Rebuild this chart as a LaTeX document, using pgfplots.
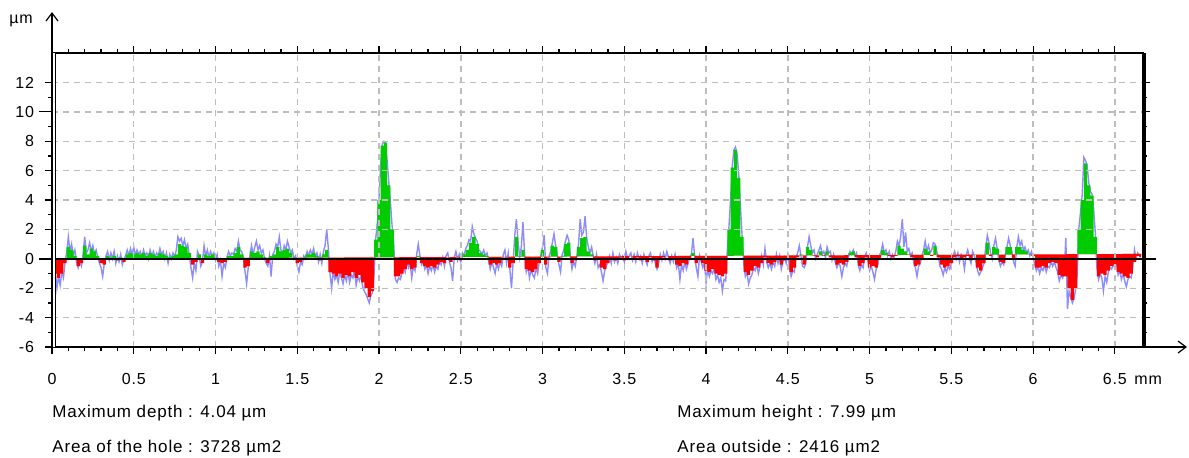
\documentclass[border=0pt]{standalone}
\usepackage{fontspec}
\setmainfont{Liberation Sans}
\newfontfamily\spaced[LetterSpace=5]{Liberation Sans}
\usepackage{pgfplots}
\usepackage{pgfplotstable}
\pgfplotsset{compat=1.18}
\usetikzlibrary{arrows.meta}
\definecolor{pgreen}{RGB}{0,204,0}
\definecolor{pred}{RGB}{255,0,0}
\definecolor{pblue}{RGB}{140,140,255}
\definecolor{pgrid}{RGB}{190,190,190}
\pgfplotstableread{
x s
0.00 0.2
0.02 -1.0
0.04 -1.3
0.06 -1.0
0.08 -0.3
0.10 0.8
0.12 0.6
0.14 0.2
0.16 -0.5
0.18 -0.3
0.20 0.9
0.22 0.3
0.24 0.7
0.26 0.5
0.28 0.2
0.30 -0.3
0.32 -0.4
0.34 0.2
0.36 0.1
0.38 0.2
0.40 -0.1
0.42 0.1
0.44 -0.2
0.46 0.3
0.48 0.4
0.50 0.3
0.52 0.4
0.54 0.3
0.56 0.4
0.58 0.2
0.60 0.4
0.62 0.3
0.64 0.2
0.66 0.4
0.68 0.3
0.70 0.2
0.72 0.1
0.74 0.2
0.76 0.3
0.78 1.0
0.80 0.9
0.82 0.8
0.84 0.4
0.86 -0.4
0.88 -0.2
0.90 0.3
0.92 -0.3
0.94 0.3
0.96 0.2
0.98 0.3
1.00 0.1
1.02 -0.2
1.04 -0.3
1.06 -0.2
1.08 0.2
1.10 0.2
1.12 0.4
1.14 0.8
1.16 0.3
1.18 -0.6
1.20 -0.5
1.22 0.5
1.24 0.4
1.26 0.5
1.28 0.3
1.30 0.1
1.32 -0.3
1.34 0.2
1.36 0.3
1.38 0.8
1.40 0.5
1.42 0.6
1.44 0.7
1.46 0.4
1.48 0.1
1.50 -0.3
1.52 -0.2
1.54 0.1
1.56 0.3
1.58 0.3
1.60 0.4
1.62 0.2
1.64 -0.1
1.66 0.3
1.68 0.6
1.70 -0.9
1.72 -1.0
1.74 -1.2
1.76 -1.0
1.78 -1.3
1.80 -1.1
1.82 -1.2
1.84 -0.9
1.86 -1.3
1.88 -1.1
1.90 -1.6
1.92 -2.0
1.94 -2.6
1.96 -2.2
1.98 1.3
2.00 4.0
2.02 7.7
2.04 7.9
2.06 5.0
2.08 2.0
2.10 -1.2
2.12 -1.2
2.14 -1.0
2.16 -0.7
2.18 -0.4
2.20 -0.7
2.22 -0.6
2.24 0.2
2.26 -0.3
2.28 -0.5
2.30 -0.6
2.32 -0.5
2.34 -0.6
2.36 -0.4
2.38 -0.2
2.40 -0.3
2.42 0.1
2.44 -0.2
2.46 0.0
2.48 0.1
2.50 -0.1
2.52 0.3
2.54 0.6
2.56 1.1
2.58 1.5
2.60 1.0
2.62 0.4
2.64 0.3
2.66 0.2
2.68 -0.4
2.70 -0.3
2.72 -0.4
2.74 -0.3
2.76 0.1
2.78 0.1
2.80 -0.6
2.82 -0.3
2.84 1.5
2.86 0.2
2.88 0.6
2.90 -0.7
2.92 -0.8
2.94 -0.9
2.96 -0.7
2.98 -0.3
3.00 0.6
3.02 -0.4
3.04 0.1
3.06 0.9
3.08 0.8
3.10 -0.2
3.12 0.2
3.14 1.0
3.16 1.1
3.18 -0.3
3.20 -0.1
3.22 0.8
3.24 1.4
3.26 1.5
3.28 0.5
3.30 0.3
3.32 -0.1
3.34 0.0
3.36 -0.6
3.38 -0.7
3.40 -0.3
3.42 0.0
3.44 -0.1
3.46 0.0
3.48 0.1
3.50 -0.1
3.52 0.0
3.54 0.2
3.56 0.0
3.58 0.1
3.60 -0.1
3.62 0.0
3.64 -0.2
3.66 0.1
3.68 -0.1
3.70 -0.6
3.72 0.0
3.74 0.1
3.76 0.2
3.78 -0.1
3.80 0.0
3.82 -0.4
3.84 -0.5
3.86 -0.3
3.88 -0.4
3.90 0.0
3.92 0.4
3.94 -0.3
3.96 0.0
3.98 -0.3
4.00 -0.8
4.02 -0.9
4.04 -0.7
4.06 -1.0
4.08 -1.1
4.10 -1.2
4.12 -1.0
4.14 2.0
4.16 6.2
4.18 7.4
4.20 5.5
4.22 1.5
4.24 -0.9
4.26 -1.1
4.28 -0.8
4.30 -0.5
4.32 -0.6
4.34 -0.3
4.36 0.1
4.38 -0.3
4.40 -0.4
4.42 -0.2
4.44 0.0
4.46 -0.4
4.48 -0.1
4.50 0.0
4.52 -0.9
4.54 -0.6
4.56 0.1
4.58 0.3
4.60 -0.4
4.62 0.8
4.64 0.6
4.66 0.2
4.68 0.1
4.70 0.5
4.72 0.2
4.74 0.5
4.76 0.1
4.78 0.0
4.80 -0.4
4.82 -0.3
4.84 -0.4
4.86 -0.2
4.88 0.4
4.90 0.5
4.92 0.1
4.94 -0.5
4.96 -0.3
4.98 0.1
5.00 -0.6
5.02 -0.5
5.04 -0.6
5.06 0.0
5.08 0.6
5.10 0.4
5.12 0.2
5.14 0.1
5.16 0.2
5.18 0.9
5.20 0.7
5.22 0.5
5.24 0.3
5.26 0.1
5.28 -0.5
5.30 -0.4
5.32 0.0
5.34 0.7
5.36 0.5
5.38 0.2
5.40 0.9
5.42 0.1
5.44 -0.4
5.46 -0.6
5.48 -0.5
5.50 -0.3
5.52 0.1
5.54 0.2
5.56 0.0
5.58 0.1
5.60 0.2
5.62 -0.1
5.64 0.3
5.66 -0.6
5.68 -0.8
5.70 -0.3
5.72 1.1
5.74 0.2
5.76 0.8
5.78 0.7
5.80 -0.2
5.82 -0.3
5.84 0.8
5.86 0.8
5.88 0.0
5.90 0.8
5.92 0.8
5.94 0.6
5.96 0.5
5.98 0.3
6.00 0.2
6.02 -0.6
6.04 -0.6
6.06 -0.5
6.08 -0.6
6.10 -0.3
6.12 -0.2
6.14 -0.3
6.16 -1.1
6.18 -1.2
6.20 -1.2
6.22 -2.0
6.24 -2.8
6.26 -2.0
6.28 2.0
6.30 4.0
6.32 6.5
6.34 5.0
6.36 4.3
6.38 1.5
6.40 -1.2
6.42 -1.0
6.44 -1.1
6.46 -0.8
6.48 -0.5
6.50 -0.4
6.52 -0.9
6.54 -1.0
6.56 -1.2
6.58 -1.3
6.60 -1.0
6.62 -0.2
6.64 0.2
6.66 0.1
}\smooth
\begin{document}
\begin{tikzpicture}
\useasboundingbox (0,0) rectangle (594.5pt,-228.5pt);
\begin{axis}[
  at={(26pt,-173.5pt)}, anchor=south west,
  scale only axis, width=545.5pt, height=147pt,
  xmin=0, xmax=6.672, ymin=-6, ymax=14,
  xtick={0,0.5,1,1.5,2,2.5,3,3.5,4,4.5,5,5.5,6,6.5},
  ytick={-6,-4,-2,0,2,4,6,8,10,12},
  minor x tick num=4, minor y tick num=1,
  tick align=outside,
  xtick pos=both, ytick pos=both,
  major tick length=3.5pt, minor tick length=2pt,
  grid=major,
  major grid style={dash pattern=on 3pt off 2.5pt, pgrid, line width=0.7pt},
  axis on top,
  axis line style={line width=0.75pt},
  tick style={black, line width=0.6pt},
  ticklabel style={font=\spaced\fontsize{8}{9}\selectfont},
  xticklabel style={yshift=-6pt},
  yticklabel style={xshift=-2pt},
  /pgf/number format/assume math mode=true,
  extra y ticks={0}, extra y tick labels={},
  extra y tick style={grid=major, major grid style={solid, black, line width=1pt}, major tick length=6.5pt, tick style={line width=1pt}},
  clip=false,
]
\addplot[pblue, line width=0.7pt] coordinates {
(0,0.7) (0.01,-1.5) (0.02,-0.8) (0.03,-2.0) (0.04,-1.2) (0.05,-1.8) (0.06,-0.9) (0.07,-1.3) (0.08,-0.2) (0.09,0.4)
(0.10,1.5) (0.11,0.5) (0.12,1.0) (0.13,0.2) (0.14,0.6) (0.15,-0.2) (0.16,-0.6) (0.17,-0.2) (0.18,-0.5) (0.19,0.3)
(0.20,1.5) (0.21,0.4) (0.22,0.6) (0.23,1.1) (0.24,0.5) (0.25,0.9) (0.26,0.3) (0.27,0.6) (0.28,0.1) (0.29,-0.3)
(0.30,-0.6) (0.31,-1.2) (0.32,-0.3) (0.33,0.2) (0.34,0.5) (0.35,-0.1) (0.36,0.4) (0.37,0.0) (0.38,0.5) (0.39,-0.3)
(0.40,0.2) (0.41,-0.2) (0.42,0.3) (0.43,-0.4) (0.44,0.0) (0.45,0.2) (0.46,0.6) (0.47,0.2) (0.48,0.7) (0.49,0.3)
(0.50,0.8) (0.51,0.2) (0.52,0.6) (0.53,0.3) (0.54,0.5) (0.55,0.1) (0.56,0.6) (0.57,0.2) (0.58,0.4) (0.59,0.0)
(0.60,0.6) (0.61,0.2) (0.62,0.5) (0.63,0.1) (0.64,0.4) (0.65,0.2) (0.66,0.7) (0.67,0.3) (0.68,0.5) (0.69,0.0)
(0.70,0.4) (0.71,-0.3) (0.72,0.3) (0.73,0.0) (0.74,0.4) (0.75,0.1) (0.76,0.6) (0.77,1.5) (0.78,1.2) (0.79,1.4)
(0.80,0.9) (0.81,1.3) (0.82,0.7) (0.83,1.0) (0.84,0.2) (0.85,-0.6) (0.86,-1.3) (0.87,-0.3) (0.88,-0.8) (0.89,0.5)
(0.90,0.2) (0.91,-0.5) (0.92,-0.2) (0.93,0.9) (0.94,0.2) (0.95,0.6) (0.96,0.1) (0.97,0.5) (0.98,0.2) (0.99,0.4)
(1.00,-0.1) (1.01,0.3) (1.02,-0.5) (1.03,-0.1) (1.04,-1.2) (1.05,-0.3) (1.06,-0.6) (1.07,0.1) (1.08,0.5) (1.09,0.2)
(1.10,0.4) (1.11,0.3) (1.12,0.7) (1.13,0.5) (1.14,1.2) (1.15,0.6) (1.16,0.5) (1.17,0.1) (1.18,-0.8) (1.19,-1.7)
(1.20,-0.6) (1.21,0.2) (1.22,0.9) (1.23,0.3) (1.24,0.8) (1.25,1.2) (1.26,0.6) (1.27,0.9) (1.28,0.4) (1.29,0.6)
(1.30,0.0) (1.31,-0.3) (1.32,-0.5) (1.33,0.2) (1.34,-1.2) (1.35,0.3) (1.36,0.5) (1.37,1.0) (1.38,0.8) (1.39,1.5)
(1.40,0.6) (1.41,0.3) (1.42,0.9) (1.43,0.6) (1.44,1.2) (1.45,0.8) (1.46,0.4) (1.47,0.6) (1.48,0.0) (1.49,0.2)
(1.50,-0.5) (1.51,-0.9) (1.52,-0.2) (1.53,-0.4) (1.54,0.2) (1.55,0.0) (1.56,0.5) (1.57,0.2) (1.58,0.6) (1.59,0.3)
(1.60,0.7) (1.61,0.1) (1.62,0.4) (1.63,-0.2) (1.64,0.3) (1.65,-0.3) (1.66,0.5) (1.67,0.9) (1.68,2.0) (1.69,0.7)
(1.70,-1.0) (1.71,-2.0) (1.72,-0.8) (1.73,-1.4) (1.74,-1.1) (1.75,-1.6) (1.76,-0.9) (1.77,-1.3) (1.78,-1.7) (1.79,-1.1)
(1.80,-1.5) (1.81,-0.9) (1.82,-1.6) (1.83,-1.1) (1.84,-1.3) (1.85,-0.7) (1.86,-1.8) (1.87,-1.2) (1.88,-1.5) (1.89,-1.1)
(1.90,-1.9) (1.91,-2.2) (1.92,-2.4) (1.93,-2.7) (1.94,-3.0) (1.95,-2.5) (1.96,-2.3) (1.97,-1.0) (1.98,1.4) (1.99,2.5)
(2.00,4.2) (2.01,6.4) (2.02,7.8) (2.03,8.0) (2.04,7.9) (2.05,6.6) (2.06,5.2) (2.07,3.8) (2.08,2.2) (2.09,1.0)
(2.10,-1.4) (2.11,-1.6) (2.12,-1.3) (2.13,-1.4) (2.14,-1.0) (2.15,-0.6) (2.16,-0.9) (2.17,-0.2) (2.18,-0.6) (2.19,-0.3)
(2.20,-1.3) (2.21,-0.5) (2.22,-0.8) (2.23,0.3) (2.24,1.0) (2.25,0.2) (2.26,-0.4) (2.27,-0.2) (2.28,-0.7) (2.29,-0.4)
(2.30,-1.0) (2.31,-0.5) (2.32,-0.8) (2.33,-0.4) (2.34,-0.9) (2.35,-0.5) (2.36,-0.7) (2.37,-0.1) (2.38,-0.4) (2.39,0.1)
(2.40,-0.5) (2.41,0.2) (2.42,0.4) (2.43,-0.2) (2.44,-0.6) (2.45,-1.5) (2.46,0.1) (2.47,0.5) (2.48,-0.1) (2.49,0.3)
(2.50,-0.2) (2.51,0.4) (2.52,0.2) (2.53,0.7) (2.54,0.9) (2.55,1.3) (2.56,1.2) (2.57,2.2) (2.58,1.7) (2.59,1.4)
(2.60,1.2) (2.61,0.6) (2.62,0.5) (2.63,0.3) (2.64,0.6) (2.65,0.2) (2.66,0.4) (2.67,-0.1) (2.68,-0.7) (2.69,-0.2)
(2.70,-0.6) (2.71,-1.0) (2.72,-0.3) (2.73,-0.7) (2.74,-0.2) (2.75,-0.5) (2.76,0.3) (2.77,0.6) (2.78,-0.3) (2.79,0.4)
(2.80,-0.7) (2.81,-2.0) (2.82,-0.2) (2.83,1.6) (2.84,2.7) (2.85,1.2) (2.86,0.1) (2.87,0.8) (2.88,2.5) (2.89,0.4)
(2.90,-0.9) (2.91,-0.5) (2.92,-1.3) (2.93,-0.7) (2.94,-1.1) (2.95,-1.3) (2.96,-0.6) (2.97,-1.0) (2.98,-0.2) (2.99,0.3)
(3.00,0.8) (3.01,1.6) (3.02,-0.6) (3.03,-1.0) (3.04,0.2) (3.05,0.5) (3.06,1.1) (3.07,1.7) (3.08,0.9) (3.09,0.3)
(3.10,-0.4) (3.11,-0.9) (3.12,0.3) (3.13,0.6) (3.14,1.2) (3.15,1.6) (3.16,1.3) (3.17,0.2) (3.18,-0.7) (3.19,-0.2)
(3.20,-0.5) (3.21,0.2) (3.22,1.0) (3.23,2.7) (3.24,1.6) (3.25,1.8) (3.26,2.9) (3.27,1.4) (3.28,0.8) (3.29,0.4)
(3.30,0.8) (3.31,0.2) (3.32,-0.3) (3.33,0.3) (3.34,-0.6) (3.35,-0.4) (3.36,-0.9) (3.37,-1.5) (3.38,-0.8) (3.39,-0.5)
(3.40,-0.2) (3.41,0.2) (3.42,-0.3) (3.43,0.4) (3.44,-0.2) (3.45,0.1) (3.46,-0.3) (3.47,0.3) (3.48,0.0) (3.49,0.2)
(3.50,-0.2) (3.51,0.5) (3.52,0.0) (3.53,0.2) (3.54,0.4) (3.55,-0.1) (3.56,0.3) (3.57,-0.2) (3.58,0.4) (3.59,0.0)
(3.60,0.2) (3.61,-0.3) (3.62,0.3) (3.63,-0.1) (3.64,-0.4) (3.65,0.2) (3.66,0.4) (3.67,-0.2) (3.68,0.1) (3.69,-0.3)
(3.70,-0.7) (3.71,-0.3) (3.72,0.3) (3.73,-0.1) (3.74,0.4) (3.75,0.0) (3.76,0.5) (3.77,0.1) (3.78,-0.3) (3.79,0.2)
(3.80,-0.2) (3.81,0.3) (3.82,-0.6) (3.83,-0.3) (3.84,-1.4) (3.85,-0.4) (3.86,-0.8) (3.87,-0.2) (3.88,-0.7) (3.89,-0.3)
(3.90,0.1) (3.91,0.3) (3.92,1.4) (3.93,0.2) (3.94,-0.6) (3.95,-1.2) (3.96,0.2) (3.97,-0.2) (3.98,-0.6) (3.99,-0.2)
(4.00,-1.6) (4.01,-0.7) (4.02,-1.2) (4.03,-0.8) (4.04,-1.0) (4.05,-0.6) (4.06,-1.4) (4.07,-1.1) (4.08,-1.6) (4.09,-1.3)
(4.10,-2.2) (4.11,-1.4) (4.12,-1.5) (4.13,0.6) (4.14,2.2) (4.15,4.1) (4.16,6.3) (4.17,7.4) (4.18,7.6) (4.19,7.1)
(4.20,5.7) (4.21,3.6) (4.22,1.6) (4.23,-0.3) (4.24,-1.2) (4.25,-0.9) (4.26,-1.7) (4.27,-1.3) (4.28,-1.1) (4.29,-0.6)
(4.30,-0.8) (4.31,-0.4) (4.32,-1.0) (4.33,-0.5) (4.34,0.2) (4.35,-0.4) (4.36,0.7) (4.37,-0.2) (4.38,-0.6) (4.39,-0.3)
(4.40,-0.7) (4.41,-0.2) (4.42,-0.5) (4.43,0.3) (4.44,-0.3) (4.45,0.2) (4.46,-0.7) (4.47,-0.2) (4.48,0.1) (4.49,-0.3)
(4.50,0.3) (4.51,-0.5) (4.52,-1.2) (4.53,-0.8) (4.54,-0.9) (4.55,0.1) (4.56,0.4) (4.57,0.9) (4.58,0.2) (4.59,-0.5)
(4.60,-0.6) (4.61,-0.3) (4.62,0.8) (4.63,1.5) (4.64,0.9) (4.65,0.4) (4.66,0.6) (4.67,0.0) (4.68,0.3) (4.69,0.6)
(4.70,0.9) (4.71,0.3) (4.72,0.5) (4.73,0.1) (4.74,0.8) (4.75,0.4) (4.76,0.5) (4.77,-0.1) (4.78,0.3) (4.79,-0.2)
(4.80,-0.6) (4.81,-0.2) (4.82,-0.5) (4.83,-1.2) (4.84,-0.6) (4.85,-0.3) (4.86,-0.5) (4.87,0.1) (4.88,0.5) (4.89,0.3)
(4.90,0.6) (4.91,0.2) (4.92,0.4) (4.93,-0.4) (4.94,-0.8) (4.95,-0.4) (4.96,-0.6) (4.97,0.2) (4.98,0.4) (4.99,-0.2)
(5.00,-0.8) (5.01,-0.5) (5.02,-0.9) (5.03,-1.4) (5.04,-0.7) (5.05,-0.4) (5.06,0.2) (5.07,0.5) (5.08,1.0) (5.09,0.4)
(5.10,0.6) (5.11,0.2) (5.12,0.5) (5.13,0.0) (5.14,0.3) (5.15,0.1) (5.16,0.5) (5.17,1.2) (5.18,0.9) (5.19,1.5)
(5.20,2.7) (5.21,0.8) (5.22,1.8) (5.23,0.5) (5.24,0.7) (5.25,0.2) (5.26,0.4) (5.27,-0.3) (5.28,-0.6) (5.29,-1.2)
(5.30,-0.5) (5.31,-0.3) (5.32,0.2) (5.33,0.6) (5.34,1.2) (5.35,0.5) (5.36,0.9) (5.37,0.4) (5.38,0.6) (5.39,1.1)
(5.40,1.0) (5.41,0.5) (5.42,0.2) (5.43,-0.5) (5.44,-0.7) (5.45,-1.1) (5.46,-0.6) (5.47,-0.9) (5.48,-0.5) (5.49,-0.7)
(5.50,-0.3) (5.51,0.2) (5.52,0.5) (5.53,0.0) (5.54,0.4) (5.55,-0.2) (5.56,0.3) (5.57,0.1) (5.58,-0.7) (5.59,0.2)
(5.60,0.6) (5.61,0.1) (5.62,-0.3) (5.63,0.5) (5.64,0.2) (5.65,-0.2) (5.66,-0.8) (5.67,-1.1) (5.68,-0.9) (5.69,-0.6)
(5.70,-0.3) (5.71,0.8) (5.72,1.6) (5.73,1.1) (5.74,0.4) (5.75,0.0) (5.76,0.9) (5.77,1.4) (5.78,0.7) (5.79,-0.1)
(5.80,-0.5) (5.81,-0.2) (5.82,-0.4) (5.83,0.3) (5.84,0.8) (5.85,1.4) (5.86,0.9) (5.87,0.5) (5.88,-0.2) (5.89,-0.5)
(5.90,0.8) (5.91,1.5) (5.92,0.9) (5.93,1.2) (5.94,0.6) (5.95,0.8) (5.96,0.4) (5.97,0.6) (5.98,0.2) (5.99,0.5)
(6.00,0.1) (6.01,-0.4) (6.02,-0.8) (6.03,-0.5) (6.04,-1.0) (6.05,-0.6) (6.06,-0.8) (6.07,-0.4) (6.08,-0.9) (6.09,-0.5)
(6.10,-0.6) (6.11,-0.2) (6.12,-0.5) (6.13,-0.2) (6.14,-0.6) (6.15,-0.9) (6.16,-1.5) (6.17,-1.1) (6.18,-1.3) (6.19,-1.0)
(6.20,1.4) (6.21,-3.4) (6.22,-2.2) (6.23,-2.6) (6.24,-3.0) (6.25,-2.7) (6.26,-2.1) (6.27,-1.0) (6.28,2.1) (6.29,3.2)
(6.30,4.3) (6.31,6.9) (6.32,6.7) (6.33,6.4) (6.34,5.2) (6.35,4.6) (6.36,4.4) (6.37,3.4) (6.38,1.8) (6.39,-0.6)
(6.40,-1.4) (6.41,-1.0) (6.42,-1.3) (6.43,-2.2) (6.44,-1.2) (6.45,-1.6) (6.46,-0.9) (6.47,-0.6) (6.48,-0.7) (6.49,-0.4)
(6.50,-0.6) (6.51,-0.3) (6.52,-1.1) (6.53,-0.8) (6.54,-1.4) (6.55,-1.0) (6.56,-1.5) (6.57,-1.9) (6.58,-1.4) (6.59,-1.2)
(6.60,-1.3) (6.61,-0.5) (6.62,0.6) (6.63,0.0) (6.64,0.4) (6.65,0.2) (6.66,0.3)
};
\addplot[draw=none, fill=pgreen, const plot mark mid] table[x=x, y expr={max(\thisrow{s},0.05*\thisrow{x})}] {\smooth} -- (axis cs:6.66,0.333) -- (axis cs:0,0) -- cycle;
\addplot[draw=none, fill=pred, const plot mark mid] table[x=x, y expr={min(\thisrow{s},0.05*\thisrow{x})}] {\smooth} -- (axis cs:6.66,0.333) -- (axis cs:0,0) -- cycle;
\draw[line width=0.6pt] (axis cs:0,10) -- ([xshift=-6.5pt]axis cs:0,10);
\end{axis}
\draw[line width=0.6pt, double=white, double distance=0.7pt] ([xshift=1pt]current axis.south west) -- ([xshift=1pt]current axis.north west);
\draw[line width=1.5pt] ([xshift=0.5pt]current axis.south east) -- ([xshift=0.5pt]current axis.north east);
\draw[line width=0.6pt, -{Straight Barb[length=4pt,width=6pt]}] (current axis.north west) -- ++(0,20.5pt);
\draw[line width=0.6pt, -{Straight Barb[length=4pt,width=6pt]}] (current axis.south east) -- ++(22pt,0);
\node[anchor=center, font=\spaced\fontsize{8}{9}\selectfont] at (10.5pt,-10.5pt) {µm};
\node[anchor=base west, font=\spaced\fontsize{8}{9}\selectfont, inner sep=0pt] at (567pt,-192pt) {mm};
\node[anchor=base west, font=\spaced\fontsize{8.5}{10}\selectfont, inner sep=0pt] at (26pt,-208.5pt) {Maximum depth : 4.04 µm};
\node[anchor=base west, font=\spaced\fontsize{8.5}{10}\selectfont, inner sep=0pt] at (26pt,-226pt) {Area of the hole : 3728 µm2};
\node[anchor=base west, font=\spaced\fontsize{8.5}{10}\selectfont, inner sep=0pt] at (338.5pt,-208.5pt) {Maximum height : 7.99 µm};
\node[anchor=base west, font=\spaced\fontsize{8.5}{10}\selectfont, inner sep=0pt] at (338.5pt,-226pt) {Area outside : 2416 µm2};
\end{tikzpicture}
\end{document}
